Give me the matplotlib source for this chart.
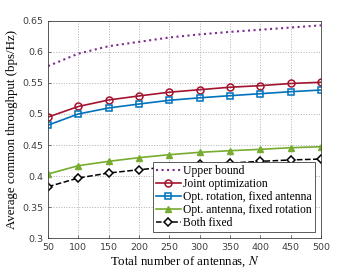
import matplotlib
matplotlib.use('Agg')
import matplotlib.pyplot as plt

plt.rcParams['mathtext.fontset'] = 'stix'

N = [50, 100, 150, 200, 250, 300, 350, 400, 450, 500]
upper = [0.577, 0.597, 0.609, 0.616, 0.623, 0.628, 0.632, 0.6355, 0.639, 0.6425]
joint = [0.495, 0.512, 0.5225, 0.529, 0.535, 0.539, 0.543, 0.5455, 0.549, 0.551]
rot_only = [0.482, 0.500, 0.5096, 0.516, 0.522, 0.526, 0.5294, 0.5326, 0.5358, 0.5385]
ant_only = [0.4034, 0.4168, 0.4238, 0.4297, 0.4345, 0.4383, 0.4409, 0.4431, 0.4457, 0.4473]
both_fixed = [0.383, 0.397, 0.405, 0.4103, 0.415, 0.4195, 0.421, 0.4238, 0.426, 0.4275]

labels = ['Upper bound', 'Joint optimization', 'Opt. rotation, fixed antenna',
          'Opt. antenna, fixed rotation', 'Both fixed']

fig = plt.figure(figsize=(3.57, 2.68), dpi=100)
ax = fig.add_axes([48 / 357, 1 - 238.3 / 268, 273 / 357, 217.6 / 268])

ax.plot(N, upper, ':', color='#7E2F8E', lw=1.5, label=labels[0])
ax.plot(N, joint, '-o', color='#A2142F', lw=1.2, ms=5, mfc='none', mew=1.1, label=labels[1])
ax.plot(N, rot_only, '-s', color='#0072BD', lw=1.2, ms=4.5, mfc='none', mew=1.1, label=labels[2])
ax.plot(N, ant_only, '-^', color='#77AC30', lw=1.2, ms=5, mfc='#77AC30', label=labels[3])
ax.plot(N, both_fixed, '--D', color='black', lw=1.1, ms=4, mfc='white', mew=1.1, label=labels[4])

ax.set_xlim(50, 500)
ax.set_ylim(0.3, 0.65)
ax.set_xticks(N)
ax.set_yticks([0.3, 0.35, 0.4, 0.45, 0.5, 0.55, 0.6, 0.65])
ax.set_yticklabels(['0.3', '0.35', '0.4', '0.45', '0.5', '0.55', '0.6', '0.65'])
ax.tick_params(labelsize=6.8, colors='#404040', direction='in', length=2.5, width=0.5)
ax.grid(True, ls=':', color='#b0b0b0', lw=0.7)
for s in ax.spines.values():
    s.set_linewidth(0.6)
    s.set_color('#404040')

serif = 'Liberation Serif'
ax.set_xlabel('Total number of antennas, $N$', fontsize=9.3, family=serif, labelpad=2)
ax.set_ylabel('Average common throughput (bps/Hz)', fontsize=9.3, family=serif, labelpad=3)

leg = ax.legend(loc='lower right', bbox_to_anchor=(1.0, 0.0), prop={'family': serif, 'size': 8.4},
                fancybox=False, edgecolor='#404040', framealpha=1, borderpad=0.25,
                labelspacing=0.08, handlelength=2.1, handletextpad=0.2, borderaxespad=0.55)
leg.get_frame().set_linewidth(0.6)

fig.savefig('out.png', dpi=100)
